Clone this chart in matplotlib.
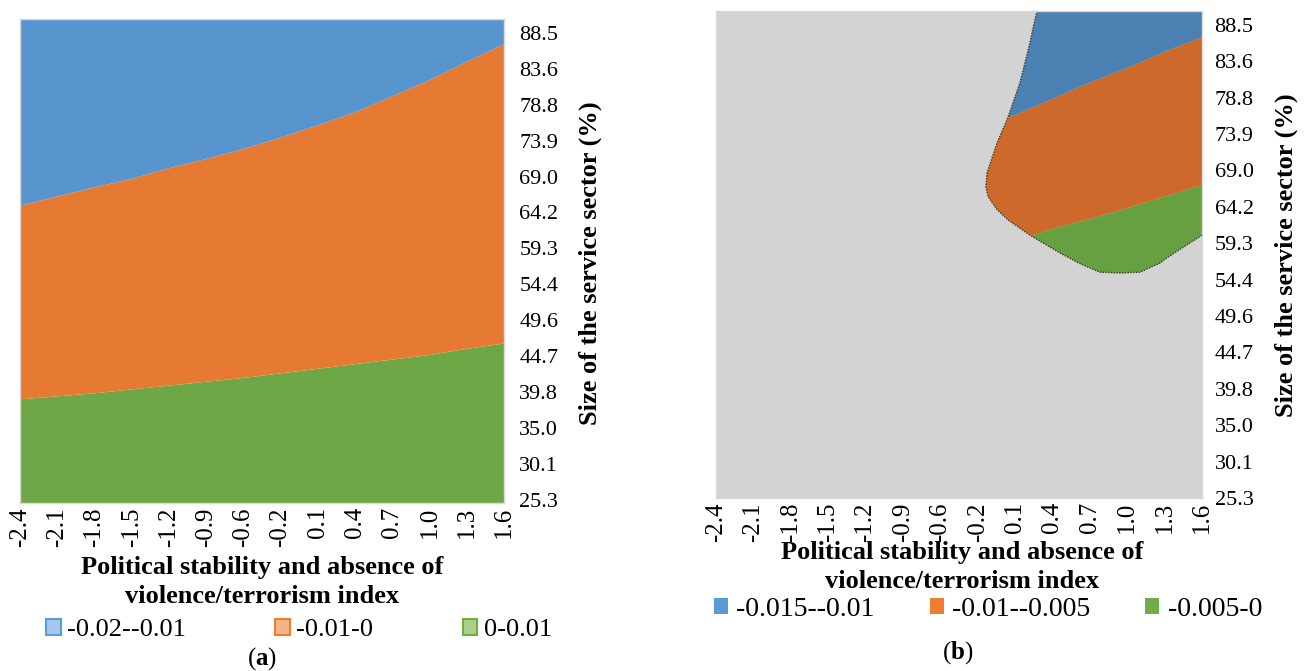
import numpy as np
import matplotlib
matplotlib.use('Agg')
import matplotlib.pyplot as plt
from matplotlib.patches import Patch, Polygon

plt.rcParams['font.family'] = ['Liberation Serif', 'DejaVu Serif']
plt.rcParams['mathtext.fontset'] = 'custom'
plt.rcParams['mathtext.rm'] = 'Liberation Serif'
plt.rcParams['mathtext.bf'] = 'Liberation Serif:bold'

# axis categories
x_labels = ['-2.4', '-2.1', '-1.8', '-1.5', '-1.2', '-0.9', '-0.6', '-0.2',
            '0.1', '0.4', '0.7', '1.0', '1.3', '1.6']
y_labels = ['25.3', '30.1', '35.0', '39.8', '44.7', '49.6', '54.4', '59.3',
            '64.2', '69.0', '73.9', '78.8', '83.6', '88.5']
y_min, y_max = 25.3, 88.5

# panel (a): band boundaries (service sector %, one value per x category)
a_blue_orange = [64.2, 65.4, 66.6, 67.7, 69.1, 70.3, 71.6, 73.1, 74.7, 76.4,
                 78.5, 80.6, 83.0, 85.3]
a_orange_green = [38.9, 39.3, 39.7, 40.2, 40.7, 41.2, 41.7, 42.3, 42.9, 43.5,
                  44.1, 44.7, 45.5, 46.2]
a_labels = ['-0.02--0.01', '-0.01-0', '0-0.01']

# panel (b): band boundaries for x categories 7..13
b_x = [7, 8, 9, 10, 11, 12, 13]
b_blue_orange = [73.2, 75.1, 77.2, 79.3, 81.2, 83.3, 85.2]
b_orange_green = [57.4, 58.8, 60.3, 61.6, 63.0, 64.5, 66.0]
# edge of the region where the effect is shown
b_edge_x = [8.59, 8.48, 8.40, 8.13, 7.81, 7.52, 7.25, 7.22, 7.28, 7.52, 7.81,
            8.40, 9.20, 9.74, 10.27, 10.81, 11.34, 11.88, 12.07, 13.0]
b_edge_y = [88.5, 86.3, 84.4, 79.2, 74.7, 71.4, 67.5, 65.7, 64.4, 62.7, 61.4,
            59.4, 57.1, 55.7, 54.6, 54.5, 54.6, 55.8, 56.5, 59.4]
b_labels = ['-0.015--0.01', '-0.01--0.005', '-0.005-0']

W, H = 1314, 671
fig = plt.figure(figsize=(W / 100, H / 100), dpi=100)


def px_box(l, t, r, b):
    return [l / W, 1 - b / H, (r - l) / W, (b - t) / H]


def style_axes(ax, ytick_lo, ypad):
    ax.set_xlim(0, len(x_labels) - 1)
    ax.set_ylim(y_min, y_max)
    ax.set_xticks(np.arange(len(x_labels)))
    ax.set_xticklabels(x_labels, rotation=90, fontsize=18)
    ax.set_yticks(np.linspace(ytick_lo, 86.7, len(y_labels)))
    ax.set_yticklabels(y_labels, fontsize=16)
    ax.yaxis.tick_right()
    ax.tick_params(axis='both', length=0)
    ax.tick_params(axis='x', pad=3)
    ax.tick_params(axis='y', pad=ypad)
    for s in ax.spines.values():
        s.set_color('#D9D9D9')
        s.set_linewidth(1)


# ---- panel (a)
ax1 = fig.add_axes(px_box(20, 19, 504, 503))
xa = np.arange(len(x_labels))
ax1.fill_between(xa, y_min, a_orange_green, color='#6EA846', lw=0)
ax1.fill_between(xa, a_orange_green, a_blue_orange, color='#E77A33', lw=0)
ax1.fill_between(xa, a_blue_orange, y_max, color='#5894CD', lw=0)
style_axes(ax1, 25.7, 11)

# ---- panel (b)
ax2 = fig.add_axes(px_box(716, 11, 1202, 498))
ax2.set_facecolor('#D3D3D3')
clip = Polygon(list(zip(b_edge_x + [13.0], b_edge_y + [y_max])), closed=True,
               transform=ax2.transData, facecolor='none', edgecolor='none')
ax2.add_patch(clip)
bands = [
    ax2.fill_between(b_x, y_min, b_orange_green, color='#66A040', lw=0),
    ax2.fill_between(b_x, b_orange_green, b_blue_orange, color='#CD6A2B', lw=0),
    ax2.fill_between(b_x, b_blue_orange, y_max, color='#4A80B2', lw=0),
]
for band in bands:
    band.set_clip_path(clip)
ax2.plot(b_edge_x, b_edge_y, ls=(0, (1, 1)), color='#3B3A22', lw=1)
style_axes(ax2, 25.3, 9)

# axis titles
ylab = 'Size of the service sector (%)'
xlab = 'Political stability and absence of\nviolence/terrorism index'
fig.text(590 / W, 1 - 263 / H, ylab, rotation=90, ha='center', va='center',
         fontsize=19, fontweight='bold')
fig.text(1286 / W, 1 - 255 / H, ylab, rotation=90, ha='center', va='center',
         fontsize=19, fontweight='bold')
fig.text(262 / W, 1 - 582 / H, xlab, ha='center', va='center', fontsize=19,
         fontweight='bold', linespacing=1.3)
fig.text(962 / W, 1 - 567 / H, xlab, ha='center', va='center', fontsize=19,
         fontweight='bold', linespacing=1.3)

# legends
a_handles = [Patch(facecolor='#A7C7EA', edgecolor='#5B9BD5', lw=1.5),
             Patch(facecolor='#F5B38A', edgecolor='#ED7D31', lw=1.5),
             Patch(facecolor='#A9D18E', edgecolor='#70AD47', lw=1.5)]
fig.legend(a_handles, a_labels, ncol=3, mode='expand', loc='center',
           bbox_to_anchor=(46 / W, 1 - 642 / H, 506 / W, 24 / H),
           frameon=False, fontsize=19, handlelength=0.55, handleheight=0.55,
           handletextpad=0.25, borderpad=0, borderaxespad=0)
b_handles = [Patch(facecolor='#5B9BD5'), Patch(facecolor='#ED7D31'),
             Patch(facecolor='#70AD47')]
fig.legend(b_handles, b_labels, ncol=3, mode='expand', loc='center',
           bbox_to_anchor=(714 / W, 1 - 621 / H, 548 / W, 24 / H),
           frameon=False, fontsize=20, handlelength=0.5, handleheight=0.5,
           handletextpad=0.3, borderpad=0, borderaxespad=0)

# panel captions
fig.text(262 / W, 1 - 659 / H, r'($\mathbf{a}$)', ha='center', va='center',
         fontsize=18)
fig.text(958 / W, 1 - 653 / H, r'($\mathbf{b}$)', ha='center', va='center',
         fontsize=18)

fig.savefig('out.png', dpi=100)
